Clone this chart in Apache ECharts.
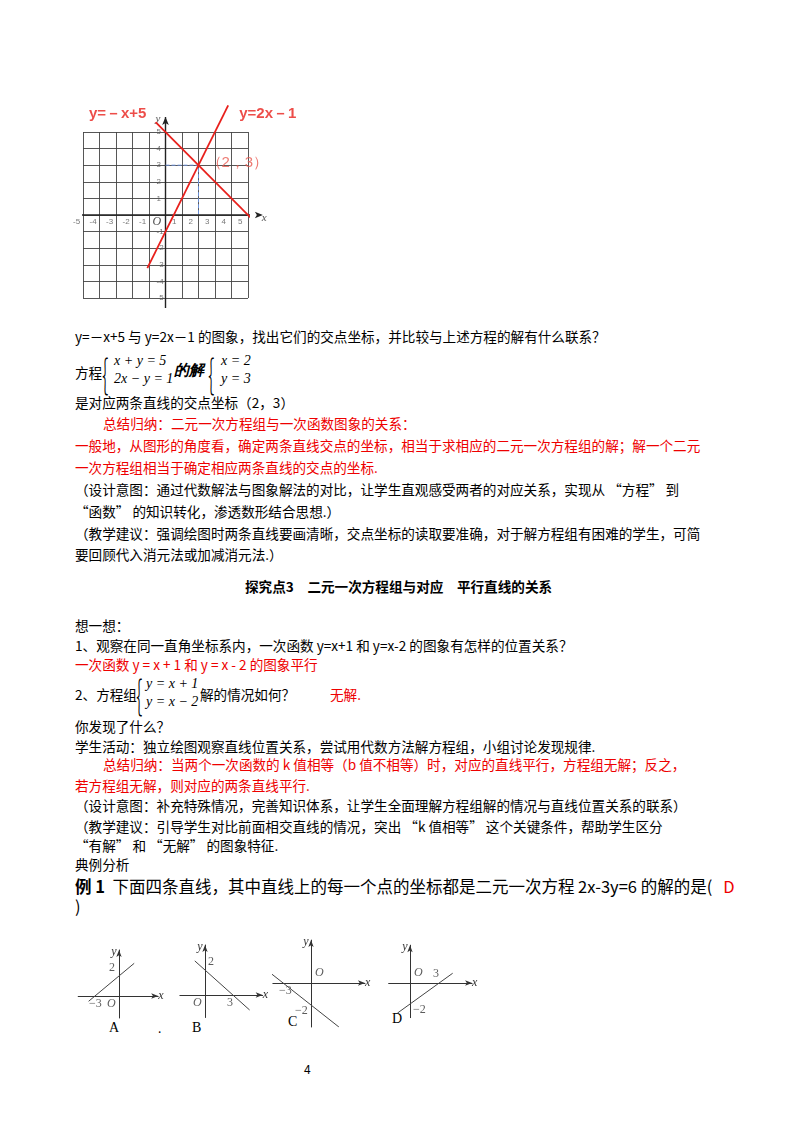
<!DOCTYPE html>
<html><head><meta charset="utf-8">
<script src="https://cdn.jsdelivr.net/npm/echarts@6/dist/echarts.min.js"></script>
<style>
body{margin:0;width:800px;height:1132px;background:#fff;position:relative;font-family:"Noto Sans CJK SC","DejaVu Sans",sans-serif;color:#000;overflow:hidden}
.t{position:absolute;left:75px;font-size:13.6px;white-space:nowrap;line-height:18px}
.r{color:#e00}
.b{font-weight:bold}
.br{position:absolute;font-size:40px;font-weight:200;line-height:40px;transform:scaleX(0.5);transform-origin:left}
.eq{position:absolute;font-family:"Liberation Serif",serif;font-style:italic;font-size:14px;line-height:18px;white-space:nowrap}
#c{position:absolute;left:0;top:0;width:800px;height:1132px}
</style></head><body>
<div class="t" style="top:327px">y=－x+5 与 y=2x－1 的图象，找出它们的交点坐标，并比较与上述方程的解有什么联系？</div>
<div class="t" style="top:363px">方程</div>
<div class="br" style="left:102px;top:352px">{</div>
<div class="eq" style="left:114px;top:352px">x + y = 5<br>2x − y = 1</div>
<div class="eq" style="left:174px;top:361px;font-weight:bold;font-size:15px">的解</div>
<div class="br" style="left:208px;top:352px">{</div>
<div class="eq" style="left:221px;top:352px">x = 2<br>y = 3</div>
<div class="t" style="top:393px">是对应两条直线的交点坐标（2，3）</div>
<div class="t r" style="top:414px;left:103px">总结归纳：二元一次方程组与一次函数图象的关系：</div>
<div class="t r" style="top:436px">一般地，从图形的角度看，确定两条直线交点的坐标，相当于求相应的二元一次方程组的解；解一个二元</div>
<div class="t r" style="top:458px">一次方程组相当于确定相应两条直线的交点的坐标.</div>
<div class="t" style="top:480px">（设计意图：通过代数解法与图象解法的对比，让学生直观感受两者的对应关系，实现从 “方程” 到</div>
<div class="t" style="top:502px">“函数” 的知识转化，渗透数形结合思想.）</div>
<div class="t" style="top:524px">（教学建议：强调绘图时两条直线要画清晰，交点坐标的读取要准确，对于解方程组有困难的学生，可简</div>
<div class="t" style="top:545px">要回顾代入消元法或加减消元法.）</div>
<div class="t b" style="top:577px;left:245px">探究点3　二元一次方程组与对应　平行直线的关系</div>
<div class="t" style="top:616px">想一想：</div>
<div class="t" style="top:636px">1、观察在同一直角坐标系内，一次函数 y=x+1 和 y=x-2 的图象有怎样的位置关系？</div>
<div class="t r" style="top:655px">一次函数 y = x + 1 和 y = x - 2 的图象平行</div>
<div class="t" style="top:685px">2、方程组</div>
<div class="br" style="left:136px;top:673px">{</div>
<div class="eq" style="left:146px;top:675px">y = x + 1<br>y = x − 2</div>
<div class="t" style="top:685px;left:200px">解的情况如何？</div>
<div class="t r" style="top:685px;left:330px">无解.</div>
<div class="t" style="top:717px">你发现了什么？</div>
<div class="t" style="top:737px">学生活动：独立绘图观察直线位置关系，尝试用代数方法解方程组，小组讨论发现规律.</div>
<div class="t r" style="top:755px;left:103px">总结归纳：当两个一次函数的 k 值相等（b 值不相等）时，对应的直线平行，方程组无解；反之，</div>
<div class="t r" style="top:776px">若方程组无解，则对应的两条直线平行.</div>
<div class="t" style="top:796px">（设计意图：补充特殊情况，完善知识体系，让学生全面理解方程组解的情况与直线位置关系的联系）</div>
<div class="t" style="top:817px">（教学建议：引导学生对比前面相交直线的情况，突出 “k 值相等” 这个关键条件，帮助学生区分</div>
<div class="t" style="top:836px">“有解” 和 “无解” 的图象特征.</div>
<div class="t" style="top:855px">典例分析</div>
<div class="t" style="top:875px;font-size:16.5px;line-height:22px"><b>例 1</b>&nbsp; 下面四条直线，其中直线上的每一个点的坐标都是二元一次方程 2x-3y=6 的解的是(&nbsp;&nbsp;&nbsp;<span class="r">D</span></div>
<div class="t" style="top:897px;font-size:16.5px">)</div>
<div class="t" style="top:1060px;left:304px;font-size:12px">4</div>
<div class="t" style="top:1019px;left:109px;font-family:'Liberation Serif',serif;font-size:14px">A</div>
<div class="t" style="top:1019px;left:158px;font-size:12px">.</div>
<div class="t" style="top:1019px;left:192px;font-family:'Liberation Serif',serif;font-size:14px">B</div>
<div class="t" style="top:1013px;left:288px;font-family:'Liberation Serif',serif;font-size:14px">C</div>
<div class="t" style="top:1010px;left:392px;font-family:'Liberation Serif',serif;font-size:14px">D</div>
<div id="c"></div>
<script>
// main chart data
const ticks = [-5,-4,-3,-2,-1,0,1,2,3,4,5];
const lineA = [[-0.6,5.6],[6.2,-1.2]];   // y = -x + 5
const lineB = [[-1.1,-3.2],[3.8,6.6]];   // y = 2x - 1
const point = [2,3];
const labelA = 'y=－x+5', labelB = 'y=2x－1', labelP = '（2，3）';
// small graphs: line endpoints and tick labels
const smallLines = [
  [[-3.8,-0.53],[1.9,3.27]],
  [[-1.1,2.73],[4.8,-1.2]],
  [[-4.2,0.8],[3.0,-4.0]],
  [[-1.3,-2.87],[4.4,0.93]]
];
const smallLabels = [
  [{v:[0,2],t:'2'},{v:[-3,0],t:'−3'},{v:[0,0],t:'O'}],
  [{v:[0,2],t:'2'},{v:[3,0],t:'3'},{v:[0,0],t:'O'}],
  [{v:[-3,0],t:'−3'},{v:[0,-2],t:'−2'},{v:[0,0],t:'O'}],
  [{v:[3,0],t:'3'},{v:[0,-2],t:'−2'},{v:[0,0],t:'O'}]
];
// layout of small graphs: origin px, unit px, ranges
const L = [
  {ox:119,oy:996,ux:8,uy:10,x:[-5.1,4.9],y:[-2.2,4.6]},
  {ox:205,oy:995,ux:9.3,uy:12.5,x:[-2.7,6.2],y:[-1.8,4]},
  {ox:311,oy:983,ux:9.3,uy:11,x:[-4.1,5.8],y:[-4,3.9]},
  {ox:410,oy:983,ux:9.7,uy:10.5,x:[-2.2,6.4],y:[-3.3,3.6]}
];
const ch = echarts.init(document.getElementById('c'));
const grids=[{left:83,top:132,width:165,height:166}];
const xA=[{gridIndex:0,type:'value',min:-5,max:5,interval:1,
  axisLine:{show:false},axisTick:{show:false},
  splitLine:{show:true,lineStyle:{color:'#444',width:0.9}},
  axisLabel:{show:false}}];
const yA=[{gridIndex:0,type:'value',min:-5,max:5,interval:1,
  axisLine:{show:false},axisTick:{show:false},
  splitLine:{show:true,lineStyle:{color:'#444',width:0.9}},axisLabel:{show:false}}];
const red='#e8201c';
const series=[
 {type:'line',xAxisIndex:0,yAxisIndex:0,clip:false,silent:true,data:[[-5.4,0],[5.9,0]],
  symbol:(v,p)=>p.dataIndex===1?'arrow':'none',symbolSize:[5,8],symbolRotate:-90,lineStyle:{color:'#222',width:1.4},itemStyle:{color:'#222'}},
 {type:'line',xAxisIndex:0,yAxisIndex:0,clip:false,silent:true,data:[[0,-5.6],[0,5.9]],
  symbol:(v,p)=>p.dataIndex===1?'arrow':'none',symbolSize:[5,8],lineStyle:{color:'#222',width:1.4},itemStyle:{color:'#222'}},
 {type:'line',xAxisIndex:0,yAxisIndex:0,data:[[0,point[1]],point,[point[0],0]],symbol:'none',
  lineStyle:{color:'#6b8fd6',type:'dashed',width:1}},
 {type:'line',xAxisIndex:0,yAxisIndex:0,clip:false,data:lineA,symbol:'none',lineStyle:{color:red,width:1.8}},
 {type:'line',xAxisIndex:0,yAxisIndex:0,clip:false,data:lineB,symbol:'none',lineStyle:{color:red,width:1.8}},
 {type:'scatter',xAxisIndex:0,yAxisIndex:0,symbolSize:0,clip:false,
  data:ticks.filter(t=>t!==0).map(t=>({value:[t,0],label:{show:true,formatter:String(t),position:[-10,3],fontSize:8,color:'#555'}}))
   .concat(ticks.filter(t=>t!==0).map(t=>({value:[0,t],label:{show:true,formatter:String(t),position:[-9,-4],fontSize:8,color:'#555'}})))
   .concat([{value:[0,0],label:{show:true,formatter:'O',position:[-13,1],fontSize:12,fontStyle:'italic',fontFamily:'Liberation Serif',color:'#222'}},
     {value:[5.9,0],label:{show:true,formatter:'x',position:[-1,-2],fontSize:11,fontStyle:'italic',fontFamily:'Liberation Serif',color:'#222'}},
     {value:[0,5.9],label:{show:true,formatter:'y',position:[-10,-3],fontSize:11,fontStyle:'italic',fontFamily:'Liberation Serif',color:'#222'}},
     {value:point,label:{show:true,formatter:labelP,position:[8,-10],fontSize:15,color:'#e85a50'}},
     {value:[-2.9,6.1],label:{show:true,formatter:labelA,position:'inside',fontSize:15,fontWeight:'bold',color:red}},
     {value:[6.2,6.1],label:{show:true,formatter:labelB,position:'inside',fontSize:15,fontWeight:'bold',color:red}}])}
];
L.forEach((g,i)=>{
  const gi=i+1;
  grids.push({left:g.ox+g.x[0]*g.ux,top:g.oy-g.y[1]*g.uy,width:(g.x[1]-g.x[0])*g.ux,height:(g.y[1]-g.y[0])*g.uy});
  const ax={type:'value',gridIndex:gi,axisTick:{show:false},axisLabel:{show:false},splitLine:{show:false},
    axisLine:{onZero:true,symbol:['none','arrow'],symbolSize:[4,7],lineStyle:{color:'#333',width:1}},
    nameTextStyle:{fontSize:12,fontStyle:'italic',fontFamily:'Liberation Serif',color:'#333'},nameGap:4};
  xA.push(Object.assign({},ax,{min:g.x[0],max:g.x[1],name:'x',nameLocation:'end',nameTextStyle:Object.assign({},ax.nameTextStyle,{padding:[18,0,0,-4]})}));
  yA.push(Object.assign({},ax,{min:g.y[0],max:g.y[1],name:'y',nameLocation:'end',nameTextStyle:Object.assign({},ax.nameTextStyle,{padding:[0,10,-12,0]})}));
  series.push({type:'line',xAxisIndex:gi,yAxisIndex:gi,data:smallLines[i],symbol:'none',lineStyle:{color:'#444',width:1}});
  series.push({type:'scatter',xAxisIndex:gi,yAxisIndex:gi,symbolSize:0,
    data:smallLabels[i].map(o=>{
      let pos=[3,-14];
      if(o.t==='O') pos=(i>=2)?[4,-16]:[-12,2];
      else if(o.v[1]===0) pos=(i>=2)?(o.v[0]<0?[-4,2]:[-6,-15]):[-6,2];
      else if(o.v[0]===0) pos=(o.v[1]<0)?[-16,0]:[-10,-14];
      if(i===0&&o.t==='2') pos=[-10,-14];
      if(i===1&&o.t==='2') pos=[3,-14];
      if(i===3&&o.t==='−2') pos=[3,0];
      return {value:o.v,label:{show:true,formatter:o.t,position:pos,fontSize:12,fontFamily:'Liberation Serif',fontStyle:o.t==='O'?'italic':'normal',color:'#333'}};
    })});
});
ch.setOption({animation:false,grid:grids,xAxis:xA,yAxis:yA,series:series});
</script>
</body></html>
